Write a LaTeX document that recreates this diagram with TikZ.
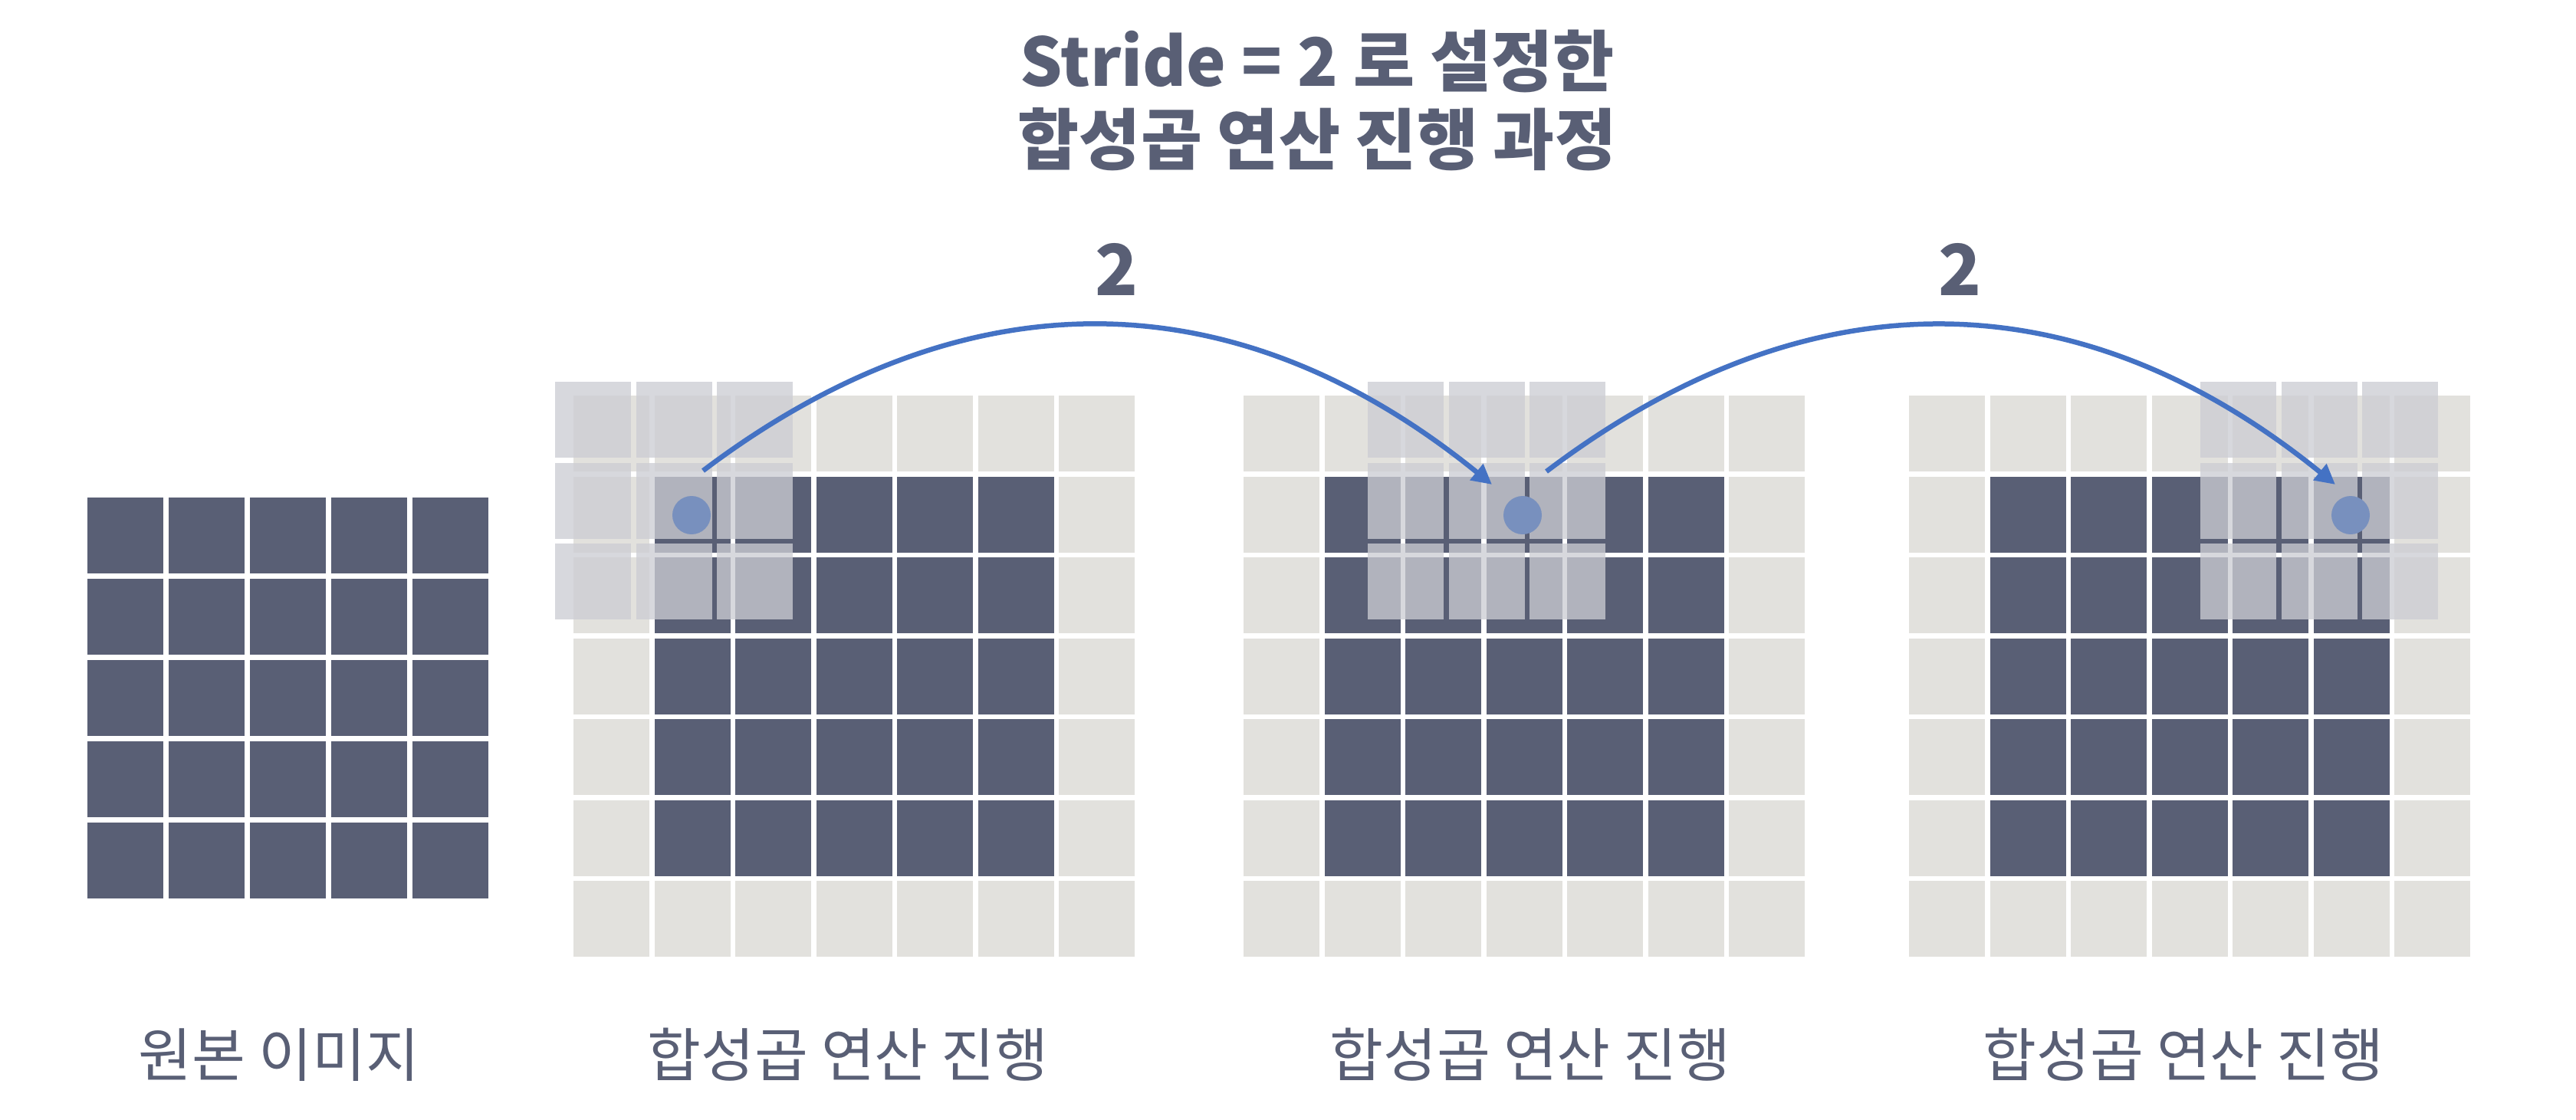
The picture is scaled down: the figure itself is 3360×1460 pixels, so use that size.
\documentclass[tikz,border=0pt]{standalone}
\usepackage{fontspec}
\setmainfont{Noto Sans CJK KR}
\usetikzlibrary{arrows.meta}
\definecolor{cellDark}{HTML}{595F75}
\definecolor{cellLight}{HTML}{E2E1DD}
\definecolor{kernGray}{HTML}{CCCDD3}
\definecolor{arrBlue}{HTML}{4472C4}
\definecolor{dotBlue}{HTML}{7890BE}
\definecolor{txt}{HTML}{595F75}
\begin{document}
\begin{tikzpicture}[x=1pt,y=-1pt,
  darkcell/.style={fill=cellDark},
  lightcell/.style={fill=cellLight},
  kerncell/.style={fill=kernGray,fill opacity=0.77},
  dotnode/.style={circle,fill=dotBlue,draw=none,minimum size=50pt,inner sep=0pt},
  arr/.style={draw=arrBlue,line width=6.5pt,-{Triangle[length=26pt,width=26pt]}},
  titletext/.style={text=txt,font=\bfseries\fontsize{87}{100}\selectfont,anchor=base,inner sep=0pt},
  numtext/.style={text=txt,font=\bfseries\fontsize{92}{100}\selectfont,anchor=base,inner sep=0pt},
  labeltext/.style={text=txt,font=\fontsize{76}{90}\selectfont,anchor=base,inner sep=0pt}]
\fill[white] (0,0) rectangle (3360,1460);
\useasboundingbox (0,0) rectangle (3360,1460);

% title
\node[titletext] (title1) at (1718,112) {Stride = 2 로 설정한};
\node[titletext] (title2) at (1718,214) {합성곱 연산 진행 과정};

% original image 5x5
\foreach \i in {0,...,4}
  \foreach \j in {0,...,4}
    \fill[darkcell] ({114+106*\i},{649+106*\j}) rectangle +(99,99);

% padded grids
\foreach \gx in {748,1622,2490}{
  \foreach \i in {0,...,6}
    \foreach \j in {0,...,6}
      \fill[lightcell] ({\gx+105.5*\i},{516+105.5*\j}) rectangle +(99,99);
  \foreach \i in {1,...,5}
    \foreach \j in {1,...,5}
      \fill[darkcell] ({\gx+105.5*\i},{516+105.5*\j}) rectangle +(99,99);
}

% kernels
\foreach \kx in {724,1784,2870}
  \foreach \i in {0,1,2}
    \foreach \j in {0,1,2}
      \fill[kerncell] ({\kx+105.5*\i},{498+105.5*\j}) rectangle +(99,99);

% dots
\node[dotnode] (dot1) at (902,672) {};
\node[dotnode] (dot2) at (1986,672) {};
\node[dotnode] (dot3) at (3066,672) {};

% arrows
\coordinate (s1) at (917,614);
\coordinate (e1) at (1946,632);
\coordinate (s2) at (2017,615);
\coordinate (e2) at (3046,632);
\draw[arr] (s1) .. controls (1260,355) and (1612,361) .. (e1);
\draw[arr] (s2) .. controls (2360,355) and (2712,361) .. (e2);

\node[numtext] (n1) at (1456,385) {2};
\node[numtext] (n2) at (2556,385) {2};

% labels
\node[labeltext] (lab0) at (364,1404) {원본 이미지};
\node[labeltext] (lab1) at (1106,1404) {합성곱 연산 진행};
\node[labeltext] (lab2) at (1996,1404) {합성곱 연산 진행};
\node[labeltext] (lab3) at (2848,1404) {합성곱 연산 진행};
\end{tikzpicture}
\end{document}
